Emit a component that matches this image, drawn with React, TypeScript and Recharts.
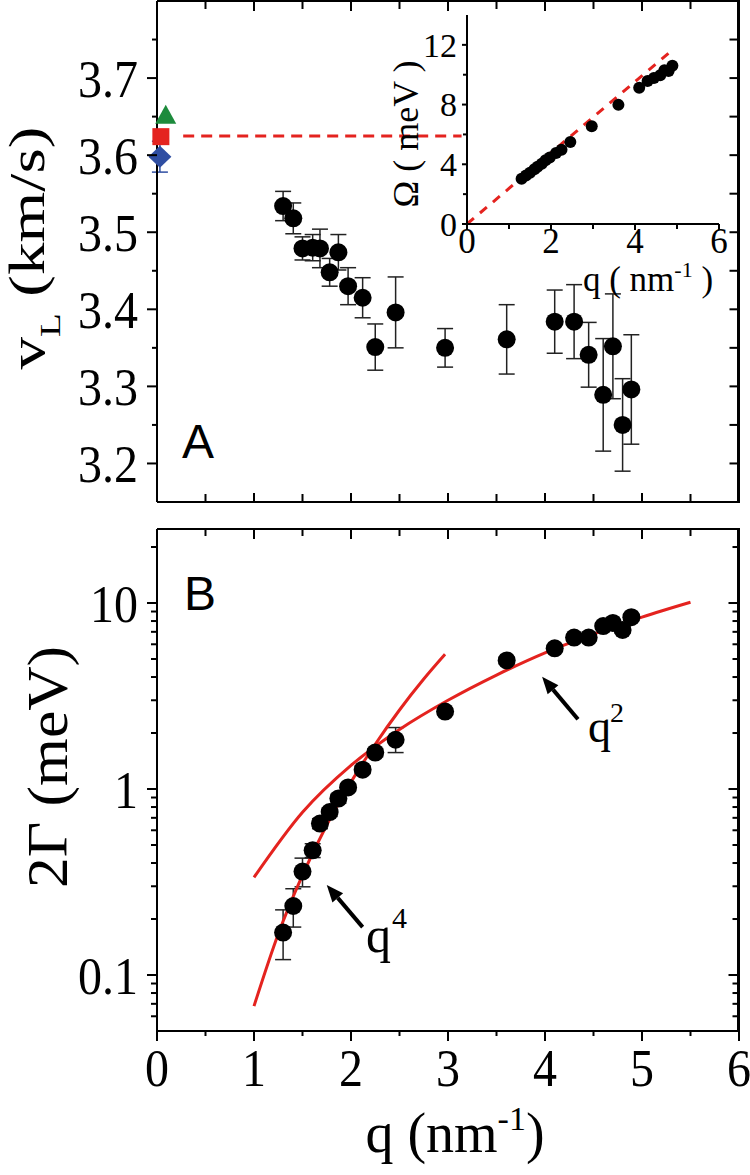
import React from 'react';
import {
  ComposedChart,
  Scatter,
  Line,
  XAxis,
  YAxis,
  ErrorBar,
  ReferenceLine,
} from 'recharts';

const SERIF = '"Liberation Serif", "Times New Roman", serif';
const SANS = '"Liberation Sans", Arial, sans-serif';
const RED = '#e4231f';

// measured wavevectors (nm^-1), same points in panel A, panel B and the inset
const qPoints = [1.3, 1.405, 1.5, 1.605, 1.68, 1.78, 1.87, 1.97, 2.12, 2.25, 2.46, 2.97, 3.605, 4.1, 4.3, 4.45, 4.6, 4.7, 4.8, 4.89];

// panel A: longitudinal sound velocity (km/s)
const velocity = [3.534, 3.518, 3.479, 3.48, 3.479, 3.448, 3.474, 3.43, 3.415, 3.351, 3.396, 3.35, 3.361, 3.384, 3.384, 3.341, 3.289, 3.352, 3.25, 3.296];
const velocityErr = [0.019, 0.02, 0.015, 0.017, 0.025, 0.018, 0.023, 0.024, 0.026, 0.03, 0.046, 0.025, 0.045, 0.041, 0.048, 0.042, 0.073, 0.068, 0.06, 0.071];

// reference velocities at q -> 0 (triangle, square, diamond)
const refQ = [0.09, 0.04, 0.03];
const refV = [3.651, 3.624, 3.598];
const refErr = [0, 0, 0.02];
const refColors = ['#1d8b3c', '#e4231f', '#2f4ea2'];
const refShapes = ['triangle', 'square', 'diamond'];

// dashed level of the square marker
const dashQ = [0.27, 3.14];
const dashV = 3.625;

// panel B: 2Γ (meV), log axis
const width2G = [0.169, 0.235, 0.36, 0.468, 0.652, 0.752, 0.888, 1.02, 1.27, 1.57, 1.84, 2.61, 4.91, 5.71, 6.52, 6.52, 7.52, 7.81, 7.17, 8.39];
const width2GErrLow = [0.048, 0.054, 0.062, 0.04, 0.04, 0.04, 0.05, 0.05, 0.06, 0.08, 0.27, 0.1, 0.2, 0.2, 0.25, 0.25, 0.3, 0.3, 0.3, 0.3];
const width2GErrHigh = [0.055, 0.056, 0.065, 0.04, 0.04, 0.04, 0.05, 0.05, 0.06, 0.08, 0.3, 0.1, 0.2, 0.2, 0.25, 0.25, 0.3, 0.3, 0.3, 0.3];

// fitted curves
const q4FitQ = [1.0, 1.25, 1.5, 1.75, 2.0, 2.25, 2.5, 2.75, 2.97];
const q4FitG = [0.068, 0.166, 0.344, 0.64, 1.09, 1.74, 2.66, 3.9, 5.3];
const q2FitQ = [1.0, 1.5, 2.0, 2.5, 3.0, 3.5, 4.0, 4.5, 5.0, 5.5];
const q2FitG = [0.335, 0.75, 1.34, 2.09, 3.0, 4.1, 5.4, 6.8, 8.4, 10.1];

// annotation arrows (tail -> head, data coords)
const arrowQ4 = [[2.12, 0.181], [1.75, 0.305]];
const arrowQ2 = [[4.34, 2.37], [3.97, 4.02]];

// inset: Ω (meV) vs q
const omega = [3.03, 3.25, 3.44, 3.67, 3.84, 4.04, 4.27, 4.45, 4.76, 4.97, 5.5, 6.55, 7.98, 9.13, 9.58, 9.78, 9.96, 10.3, 10.25, 10.6];
const insetLineQ = [0, 4.93];
const insetLineOmega = [0, 11.75];

// ticks
const qTicks = [0, 0.5, 1, 1.5, 2, 2.5, 3, 3.5, 4, 4.5, 5, 5.5, 6];
const qMajor = [0, 1, 2, 3, 4, 5, 6];
const vDomain = [3.15, 3.8];
const vTicks = [3.2, 3.25, 3.3, 3.35, 3.4, 3.45, 3.5, 3.55, 3.6, 3.65, 3.7, 3.75];
const vMajor = [3.2, 3.3, 3.4, 3.5, 3.6, 3.7];
const gDomain = [0.05, 25];
const gTicks = [0.06, 0.07, 0.08, 0.09, 0.1, 0.2, 0.3, 0.4, 0.5, 0.6, 0.7, 0.8, 0.9, 1, 2, 3, 4, 5, 6, 7, 8, 9, 10, 20];
const gMajor = [0.1, 1, 10];
const insetQTicks = [0, 1, 2, 3, 4, 5, 6];
const insetQMajor = [0, 2, 4, 6];
const insetOmegaTicks = [0, 2, 4, 6, 8, 10, 12];
const insetOmegaMajor = [0, 4, 8, 12];

const velocityData = qPoints.map((q, i) => ({ q, v: velocity[i], err: velocityErr[i] }));
const widthData = qPoints.map((q, i) => ({ q, g: width2G[i], err: [width2GErrLow[i], width2GErrHigh[i]] }));
const omegaData = qPoints.map((q, i) => ({ q, w: omega[i] }));
const q4Data = q4FitQ.map((q, i) => ({ q, g: q4FitG[i] }));
const q2Data = q2FitQ.map((q, i) => ({ q, g: q2FitG[i] }));
const insetLine = insetLineQ.map((q, i) => ({ q, w: insetLineOmega[i] }));

// plot boxes set by the chart margins below (page pixels)
const FRAME_RIGHT = 738.5;
const A_TOP = 1;
const A_BOTTOM = 502;
const B_TOP = 529;
const B_BOTTOM = 1031;

const isMajor = (majors: number[], v: number) => majors.some((m) => Math.abs(m - v) < 1e-6);

type Side = 'left' | 'right' | 'top' | 'bottom';
interface TickSpec {
  side: Side;
  majors: number[];
  majorLen: number;
  minorLen: number;
  inward?: boolean;
  labels?: boolean;
  fontSize?: number;
  gap?: number;
  stretch?: number;
  format?: (v: number) => string;
}

// draws the tick mark (and label on majors) itself, so minor ticks are possible
function makeTick(spec: TickSpec) {
  return function TickMark(props: any) {
    const { x, y, payload } = props;
    const v = payload.value;
    const major = isMajor(spec.majors, v);
    const len = major ? spec.majorLen : spec.minorLen;
    const s = spec.inward ? -1 : 1;
    let x2 = x;
    let y2 = y;
    if (spec.side === 'left') x2 = x - s * len;
    if (spec.side === 'right') x2 = x + s * len;
    if (spec.side === 'top') y2 = y - s * len;
    if (spec.side === 'bottom') y2 = y + s * len;
    const out = spec.inward ? 0 : len;
    const gap = spec.gap ?? 8;
    const st = spec.stretch ?? 1;
    const text = spec.format ? spec.format(v) : String(v);
    let label = null;
    if (spec.labels && major) {
      if (spec.side === 'left') {
        label = (
          <text
            transform={`translate(${x - out - gap},${y}) scale(1,${st})`}
            dy="0.35em"
            textAnchor="end"
            fontFamily={SERIF}
            fontSize={spec.fontSize}
            fill="#000"
          >
            {text}
          </text>
        );
      } else if (spec.side === 'bottom') {
        label = (
          <text
            transform={`translate(${x},${y + out + gap}) scale(1,${st})`}
            dy="0.71em"
            textAnchor="middle"
            fontFamily={SERIF}
            fontSize={spec.fontSize}
            fill="#000"
          >
            {text}
          </text>
        );
      }
    }
    return (
      <g>
        <line x1={x} y1={y} x2={x2} y2={y2} stroke="#000" strokeWidth={2} />
        {label}
      </g>
    );
  };
}

const axisLine = { stroke: '#000', strokeWidth: 2 };

const Dot = (r: number) => (p: any) => <circle cx={p.cx} cy={p.cy} r={r} fill="#000" />;

function refShape(kind: string, color: string) {
  return (p: any) => {
    const { cx, cy } = p;
    if (kind === 'triangle') {
      return <polygon points={`${cx},${cy - 11} ${cx - 10.5},${cy + 8} ${cx + 10.5},${cy + 8}`} fill={color} />;
    }
    if (kind === 'square') {
      return <rect x={cx - 8.5} y={cy - 8.5} width={17} height={17} fill={color} />;
    }
    return <polygon points={`${cx},${cy - 11} ${cx + 11.5},${cy} ${cx},${cy + 11} ${cx - 11.5},${cy}`} fill={color} />;
  };
}

const Arrow = (props: any) => {
  const { x1, y1, x2, y2 } = props;
  const ang = Math.atan2(y2 - y1, x2 - x1);
  const L = 17;
  const W = 7;
  const bx = x2 - L * Math.cos(ang);
  const by = y2 - L * Math.sin(ang);
  const px = Math.sin(ang) * W;
  const py = -Math.cos(ang) * W;
  return (
    <g>
      <line x1={x1} y1={y1} x2={bx} y2={by} stroke="#000" strokeWidth={4} />
      <polygon points={`${x2},${y2} ${bx + px},${by + py} ${bx - px},${by - py}`} fill="#000" />
    </g>
  );
};

// axes get 1px of room each (recharts skips axes of zero size), margins make up for it
function qAxes(bottomTick: any, topTick: any) {
  return [
    <XAxis
      key="qb"
      xAxisId="q"
      dataKey="q"
      type="number"
      domain={[0, 6]}
      ticks={qTicks}
      interval={0}
      height={1}
      tickSize={0}
      tickMargin={0}
      tickLine={false}
      axisLine={axisLine}
      tick={bottomTick}
    />,
    <XAxis
      key="qt"
      xAxisId="qTop"
      dataKey="q"
      orientation="top"
      type="number"
      domain={[0, 6]}
      allowDataOverflow
      ticks={qTicks}
      interval={0}
      height={1}
      tickSize={0}
      tickMargin={0}
      tickLine={false}
      axisLine={axisLine}
      tick={topTick}
    />,
  ];
}

// right-hand frame of a panel: edge line plus inward ticks at the left axis' tick values
function RightFrame(props: { top: number; bottom: number; ticks: number[]; majors: number[]; toY: (v: number) => number; majorLen: number; minorLen: number }) {
  const { top, bottom, ticks, majors, toY, majorLen, minorLen } = props;
  return (
    <g>
      <rect x={FRAME_RIGHT - 1.5} y={top - 1} width={3} height={bottom - top + 2} fill="#000" />
      {ticks.map((t) => {
        const y = toY(t);
        const len = isMajor(majors, t) ? majorLen : minorLen;
        return <rect key={t} x={FRAME_RIGHT - len} y={y - 1} width={len} height={2} fill="#000" />;
      })}
    </g>
  );
}

const vToY = (v: number) => A_TOP + ((vDomain[1] - v) / (vDomain[1] - vDomain[0])) * (A_BOTTOM - A_TOP);
const gToY = (g: number) =>
  B_TOP + ((Math.log10(gDomain[1]) - Math.log10(g)) / (Math.log10(gDomain[1]) - Math.log10(gDomain[0]))) * (B_BOTTOM - B_TOP);

function PanelA() {
  return (
    <ComposedChart width={750} height={505} margin={{ top: 0, right: 11, bottom: 2, left: 156 }}>
      {qAxes(
        makeTick({ side: 'bottom', majors: qMajor, majorLen: 9, minorLen: 8, inward: true }),
        makeTick({ side: 'top', majors: qMajor, majorLen: 10, minorLen: 8, inward: true }),
      )}
      <YAxis
        yAxisId="v"
        type="number"
        domain={vDomain}
        ticks={vTicks}
        interval={0}
        width={1}
        tickSize={0}
        tickMargin={0}
        tickLine={false}
        axisLine={axisLine}
        tick={makeTick({ side: 'left', majors: vMajor, majorLen: 10, minorLen: 5, labels: true, fontSize: 48, gap: 9, stretch: 1.1, format: (v) => v.toFixed(1) })}
      />
      <ReferenceLine
        xAxisId="q"
        yAxisId="v"
        segment={[{ x: dashQ[0], y: dashV }, { x: dashQ[1], y: dashV }]}
        stroke={RED}
        strokeWidth={3}
        strokeDasharray="11 7"
      />
      {refQ.map((q, i) => (
        <Scatter
          key={refShapes[i]}
          xAxisId="q"
          yAxisId="v"
          data={[{ q, v: refV[i], err: refErr[i] }]}
          dataKey="v"
          shape={refShape(refShapes[i], refColors[i])}
          isAnimationActive={false}
        >
          {refErr[i] > 0 && (
            <ErrorBar dataKey="err" direction="y" width={8} stroke={refColors[i]} strokeWidth={1.5} />
          )}
        </Scatter>
      ))}
      <Scatter xAxisId="q" yAxisId="v" data={velocityData} dataKey="v" shape={Dot(9)} isAnimationActive={false}>
        <ErrorBar dataKey="err" direction="y" width={8} stroke="#222" strokeWidth={1.5} />
      </Scatter>
    </ComposedChart>
  );
}

function Inset() {
  return (
    <ComposedChart width={370} height={300} margin={{ top: 15, right: 31, bottom: 75, left: 86 }}>
      <XAxis
        xAxisId="q"
        dataKey="q"
        type="number"
        domain={[0, 6]}
        ticks={insetQTicks}
        interval={0}
        height={1}
        tickSize={0}
        tickMargin={0}
        tickLine={false}
        axisLine={axisLine}
        tick={makeTick({ side: 'bottom', majors: insetQMajor, majorLen: 6, minorLen: 5, labels: true, fontSize: 35, gap: -2 })}
      />
      <YAxis
        yAxisId="w"
        type="number"
        domain={[0, 14]}
        ticks={insetOmegaTicks}
        interval={0}
        width={1}
        tickSize={0}
        tickMargin={0}
        tickLine={false}
        axisLine={axisLine}
        tick={makeTick({ side: 'left', majors: insetOmegaMajor, majorLen: 5, minorLen: 4, labels: true, fontSize: 34, gap: 5 })}
      />
      <Scatter xAxisId="q" yAxisId="w" data={omegaData} dataKey="w" shape={Dot(6)} isAnimationActive={false} />
      <Line
        xAxisId="q"
        yAxisId="w"
        data={insetLine}
        dataKey="w"
        type="linear"
        stroke={RED}
        strokeWidth={3}
        strokeDasharray="9 8"
        dot={false}
        isAnimationActive={false}
      />
    </ComposedChart>
  );
}

function PanelB() {
  return (
    <ComposedChart width={750} height={670} margin={{ top: 23, right: 11, bottom: 143, left: 156 }}>
      {qAxes(
        makeTick({ side: 'bottom', majors: qMajor, majorLen: 10, minorLen: 5, labels: true, fontSize: 48, gap: 8, stretch: 1.1 }),
        makeTick({ side: 'top', majors: qMajor, majorLen: 10, minorLen: 7, inward: true }),
      )}
      <YAxis
        yAxisId="g"
        type="number"
        scale="log"
        domain={gDomain}
        ticks={gTicks}
        interval={0}
        width={1}
        tickSize={0}
        tickMargin={0}
        tickLine={false}
        axisLine={axisLine}
        tick={makeTick({ side: 'left', majors: gMajor, majorLen: 10, minorLen: 6, labels: true, fontSize: 48, gap: 9, stretch: 1.1 })}
      />
      <Scatter xAxisId="q" yAxisId="g" data={widthData} dataKey="g" shape={Dot(9)} isAnimationActive={false}>
        <ErrorBar dataKey="err" direction="y" width={8} stroke="#222" strokeWidth={1.5} />
      </Scatter>
      <Line xAxisId="q" yAxisId="g" data={q4Data} dataKey="g" type="monotone" stroke={RED} strokeWidth={3} dot={false} isAnimationActive={false} />
      <Line xAxisId="q" yAxisId="g" data={q2Data} dataKey="g" type="monotone" stroke={RED} strokeWidth={3} dot={false} isAnimationActive={false} />
      <ReferenceLine
        xAxisId="q"
        yAxisId="g"
        segment={[{ x: arrowQ4[0][0], y: arrowQ4[0][1] }, { x: arrowQ4[1][0], y: arrowQ4[1][1] }]}
        shape={Arrow}
      />
      <ReferenceLine
        xAxisId="q"
        yAxisId="g"
        segment={[{ x: arrowQ2[0][0], y: arrowQ2[0][1] }, { x: arrowQ2[1][0], y: arrowQ2[1][1] }]}
        shape={Arrow}
      />
    </ComposedChart>
  );
}

export default function App() {
  return (
    <div style={{ position: 'absolute', left: 0, top: 0, width: 750, height: 1175, background: '#fff', overflow: 'hidden' }}>
      <div style={{ position: 'absolute', left: 0, top: 0 }}>
        <PanelA />
      </div>
      <div style={{ position: 'absolute', left: 380, top: 0 }}>
        <Inset />
      </div>
      <div style={{ position: 'absolute', left: 0, top: 505 }}>
        <PanelB />
      </div>
      <svg width={750} height={1175} style={{ position: 'absolute', left: 0, top: 0, pointerEvents: 'none' }}>
        <RightFrame top={A_TOP} bottom={A_BOTTOM} ticks={vTicks} majors={vMajor} toY={vToY} majorLen={9} minorLen={9} />
        <RightFrame top={B_TOP} bottom={B_BOTTOM} ticks={gTicks} majors={gMajor} toY={gToY} majorLen={10} minorLen={6} />
        <text x={182} y={458} fontFamily={SANS} fontSize={48}>A</text>
        <text x={184} y={610} fontFamily={SANS} fontSize={48}>B</text>
        <text
          transform="translate(44,248) rotate(-90)"
          textAnchor="middle"
          fontFamily={SERIF}
          fontSize={50}
          textLength={243}
          lengthAdjust="spacingAndGlyphs"
        >
          v<tspan dy={16} fontSize={30}>L</tspan>
          <tspan dy={-16}> (km/s)</tspan>
        </text>
        <text
          transform="translate(67,767) rotate(-90)"
          textAnchor="middle"
          fontFamily={SERIF}
          fontSize={56}
          textLength={242}
          lengthAdjust="spacingAndGlyphs"
        >
          2Γ (meV)
        </text>
        <text x={455} y={1152} textAnchor="middle" fontFamily={SERIF} fontSize={56}>
          q (nm<tspan dy={-22} fontSize={34}>-1</tspan>
          <tspan dy={22}>)</tspan>
        </text>
        <text transform="translate(418,134) rotate(-90)" textAnchor="middle" fontFamily={SERIF} fontSize={36}>
          Ω ( meV )
        </text>
        <text x={648} y={291} textAnchor="middle" fontFamily={SERIF} fontSize={35}>
          q ( nm<tspan dy={-14} fontSize={22}>-1</tspan>
          <tspan dy={14}> )</tspan>
        </text>
        <text x={366} y={952} fontFamily={SERIF} fontSize={50}>q</text>
        <text x={392} y={928} fontFamily={SERIF} fontSize={30}>4</text>
        <text x={588} y={742} fontFamily={SERIF} fontSize={46}>q</text>
        <text x={610} y={722} fontFamily={SERIF} fontSize={28}>2</text>
      </svg>
    </div>
  );
}
